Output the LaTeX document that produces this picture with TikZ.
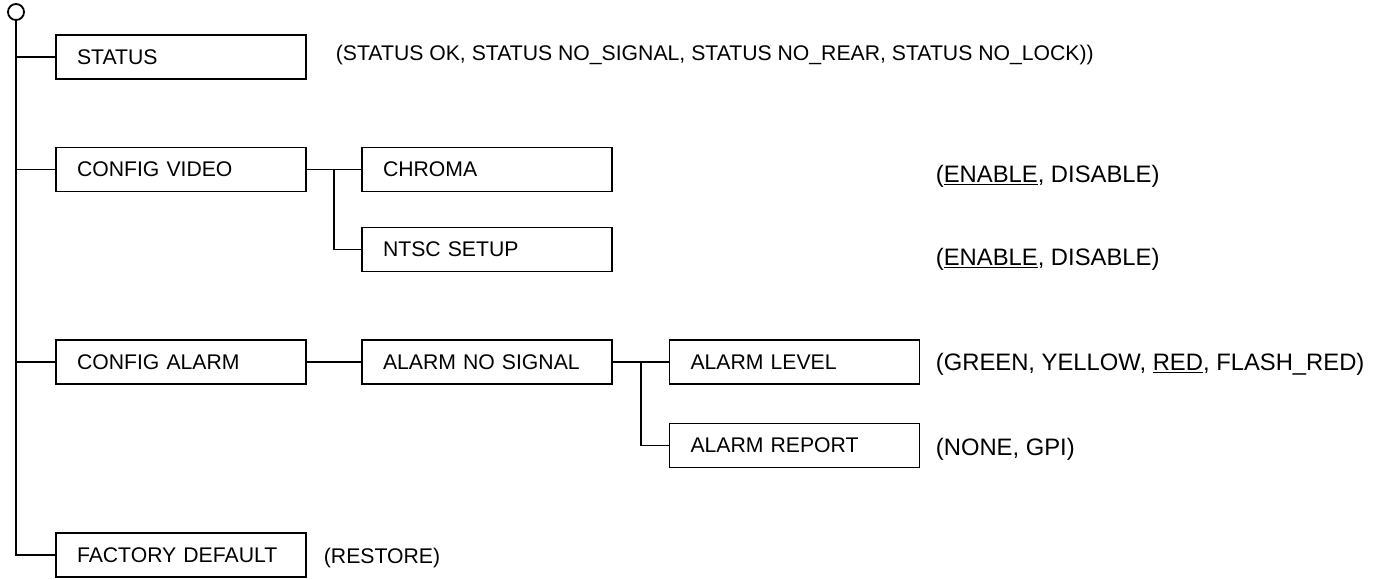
\documentclass[tikz,border=0pt]{standalone}
\usepackage{fontspec}
\setmainfont{Liberation Sans}
\usepackage{tikz}
\usetikzlibrary{calc}

\begin{document}
\begin{tikzpicture}[x=0.5pt, y=-0.5pt, line width=0.9pt,
  every node/.style={font=\fontsize{10.6}{12.7}\selectfont},
  menubox/.style={draw, text width=104pt, inner xsep=10.5pt, inner ysep=0pt,
    minimum height=22pt, align=left},
  choice/.style={anchor=base west, inner sep=0pt},
  bigchoice/.style={choice, font=\fontsize{11.9}{14}\selectfont}]
\useasboundingbox (0,0) rectangle (1379,579);
%
\node[draw, circle, minimum size=8pt, inner sep=0pt] (root) at (16,12) {};
%
\node[menubox] (status)  at (181,57)    {STATUS};
\node[menubox] (cvideo)  at (181,169.5) {CONFIG VIDEO};
\node[menubox] (calarm)  at (181,362)   {CONFIG ALARM};
\node[menubox] (factory) at (181,555)   {FACTORY DEFAULT};
%
\node[menubox] (chroma)  at (487,169.5) {CHROMA};
\node[menubox] (ntsc)    at (487,249.5) {NTSC SETUP};
\node[menubox] (nosig)   at (487,362)   {ALARM NO SIGNAL};
%
\node[menubox] (alevel)  at (794.5,362)   {ALARM LEVEL};
\node[menubox] (areport) at (794.5,445.5) {ALARM REPORT};
%
\node[choice] (statusopt)  at (335,60)  {(STATUS OK, STATUS NO\_SIGNAL, STATUS NO\_REAR, STATUS NO\_LOCK))};
\node[bigchoice] (chromaopt)  at (935,182) {(\underline{ENABLE}, DISABLE)};
\node[bigchoice] (ntscopt)    at (935,265) {(\underline{ENABLE}, DISABLE)};
\node[bigchoice] (levelopt)   at (935,370) {(GREEN, YELLOW, \underline{RED}, FLASH\_RED)};
\node[bigchoice] (reportopt)  at (935,455) {(NONE, GPI)};
\node[choice] (factoryopt) at (323,563) {(RESTORE)};
%
\draw (root.south) |- (factory.west);
\foreach \n in {status,cvideo,calarm}
  \draw (\n.west) -- (\n.west -| root.south);
%
\coordinate (vbranch) at ($(cvideo.east)!0.5!(chroma.west)$);
\draw (cvideo.east) -- (chroma.west);
\draw (vbranch) |- (ntsc.west);
%
\draw (calarm.east) -- (nosig.west);
\coordinate (abranch) at ($(nosig.east)!0.5!(alevel.west)$);
\draw (nosig.east) -- (alevel.west);
\draw (abranch) |- (areport.west);
\end{tikzpicture}
\end{document}
